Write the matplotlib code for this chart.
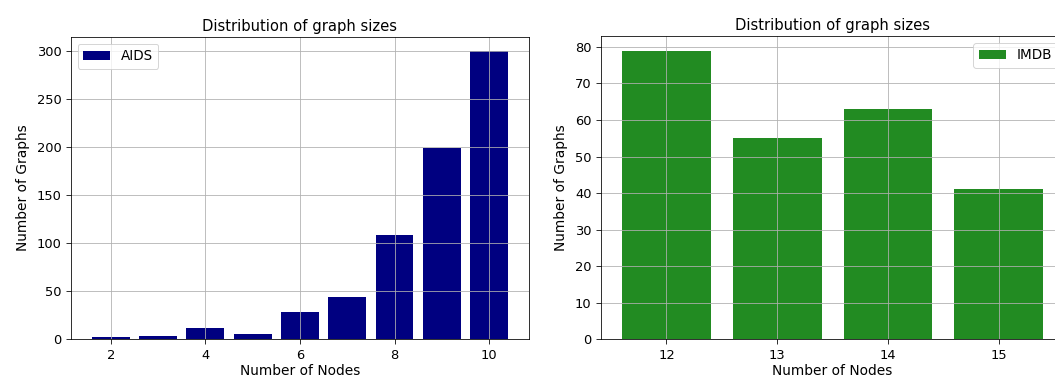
import numpy as np
import matplotlib
matplotlib.use("Agg")
import matplotlib.pyplot as plt

# Graph size counts per dataset
aids_nodes = [2, 3, 4, 5, 6, 7, 8, 9, 10]
aids_counts = [2, 3, 12, 5, 28, 44, 109, 199, 300]

imdb_nodes = [12, 13, 14, 15]
imdb_counts = [79, 55, 63, 41]

plt.rcParams["axes.titlesize"] = 14.7
plt.rcParams["axes.labelsize"] = 13.8
plt.rcParams["xtick.labelsize"] = 13
plt.rcParams["ytick.labelsize"] = 13
plt.rcParams["legend.fontsize"] = 13.5
plt.rcParams["xtick.major.size"] = 5
plt.rcParams["ytick.major.size"] = 5
plt.rcParams["xtick.major.pad"] = 4.5
plt.rcParams["ytick.major.pad"] = 4.5

fig = plt.figure(figsize=(1055 / 72, 381 / 72), dpi=72)

# The second panel runs slightly past the right edge of the figure
ax1 = fig.add_axes([0.0673, 0.110, 0.434, 0.793])
ax2 = fig.add_axes([0.5697, 0.110, 0.439, 0.795])

ax1.bar(aids_nodes, aids_counts, color="navy", label="AIDS")
ax1.set_title("Distribution of graph sizes")
ax1.set_xlabel("Number of Nodes", labelpad=2)
ax1.set_ylabel("Number of Graphs", labelpad=7)
ax1.legend(loc="upper left")

ax2.bar(imdb_nodes, imdb_counts, color="forestgreen", label="IMDB")
ax2.set_xticks(imdb_nodes)
ax2.set_title("Distribution of graph sizes")
ax2.set_xlabel("Number of Nodes", labelpad=2)
ax2.set_ylabel("Number of Graphs", labelpad=7)
ax2.legend(loc="upper right")

for ax in (ax1, ax2):
    ax.set_axisbelow("line")
    ax.grid(True, color="#b0b0b0", linewidth=0.8)

plt.savefig("out.png", dpi=72)
plt.close()
